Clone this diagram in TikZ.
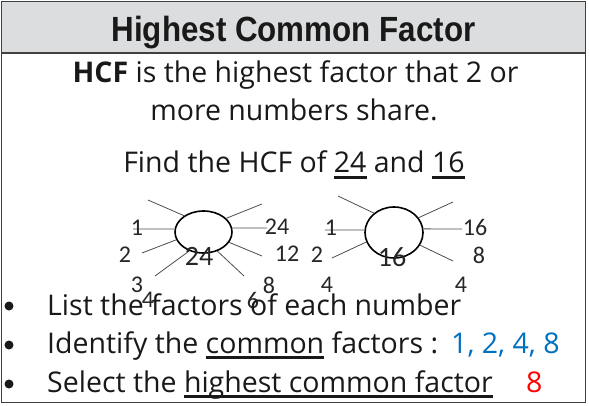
\documentclass[tikz,border=0pt]{standalone}
\usepackage{graphicx}
\usepackage{fontspec}
\setmainfont{Open Sans}
\newfontfamily\titlefont{Liberation Sans}
\newfontfamily\labelfont{Carlito}
\usetikzlibrary{shapes.geometric}

\definecolor{bandgrey}{HTML}{DCDDDF}
\definecolor{framegrey}{HTML}{404040}
\definecolor{factorblue}{HTML}{0070C0}
\definecolor{answerred}{HTML}{FF0000}

% word with a heavy rule under it
\newcommand{\uword}[1]{\setbox0\hbox{#1}\rlap{\rule[-6pt]{\wd0}{2.8pt}}\box0\relax}

\begin{document}
\begin{tikzpicture}[x=1pt, y=-1pt,
  bodytext/.style={anchor=base west, inner sep=0pt, font=\fontsize{28.5}{32}\selectfont, text=black!90},
  numlabel/.style={inner sep=0pt, font=\labelfont\fontsize{24}{24}\selectfont, text=black!85},
  biglabel/.style={inner sep=0pt, font=\labelfont\fontsize{28}{28}\selectfont, text=black!85},
  ring/.style={draw, ellipse, line width=1.6pt, inner sep=0pt},
  ray/.style={draw=black!70, line width=0.8pt},
  bulletdot/.style={circle, fill=black!90, inner sep=0pt, minimum size=9pt}]

  \useasboundingbox (0,0) rectangle (589,406);

  % frame and title band
  \fill[bandgrey] (1.5,1.5) rectangle (585.5,53);
  \draw[framegrey, line width=1.4pt] (1.5,1.5) rectangle (585.5,402.5);
  \draw[framegrey, line width=1.4pt] (1.5,53) -- (585.5,53);

  \node[anchor=base, inner sep=0pt, font=\titlefont\bfseries\fontsize{35}{35}\selectfont, text=black!90]
    (title) at (293.5,42) {\scalebox{0.895}[1]{Highest Common Factor}};

  % definition and task
  \node[bodytext, anchor=base] (def1) at (295.5,83) {\textbf{HCF} is the highest factor that 2 or};
  \node[bodytext, anchor=base] (def2) at (294,121) {more numbers share.};
  \node[bodytext, anchor=base] (task) at (294,173) {Find the HCF of \uword{24} and \uword{16}};

  % factor rings
  \node[ring, minimum width=57pt, minimum height=42pt] (c24) at (203.5,232) {};
  \node[ring, minimum width=58pt, minimum height=51pt] (c16) at (394,232.5) {};

  \foreach \a/\ex/\ey in {140/148/200, 174/133/229, 196/142/253, 233/155/276,
                          31/262/204, 8/267/228, 338/262/256, 306/244/276}
    \draw[ray] (c24.\a) -- (\ex,\ey);

  \foreach \a/\ex/\ey in {136/338/196, 175/325/230, 199/332/258,
                          31/453/202, 7/462/229, 334/453/261}
    \draw[ray] (c16.\a) -- (\ex,\ey);

  % factor pairs
  \foreach \lab/\x/\y [count=\i] in {1/137/228, 2/125/255, 3/137/285, 4/148/300,
                                     24/277/227, 12/287/254, 8/269/285, 6/253/300}
    \node[numlabel] (fa\i) at (\x,\y) {\lab};
  \node[biglabel] (n24) at (199,256) {24};

  \foreach \lab/\x/\y [count=\i] in {1/331/228, 2/317/255, 4/327/285,
                                     16/475/227, 8/479/255, 4/461/285}
    \node[numlabel] (fb\i) at (\x,\y) {\lab};
  \node[biglabel] (n16) at (392,257) {16};

  % steps
  \node[bulletdot] (b1) at (9,306) {};
  \node[bulletdot] (b2) at (9,345) {};
  \node[bulletdot] (b3) at (9,384) {};

  \node[bodytext] (step1) at (47,315) {List the factors of each number};
  \node[bodytext] (step2) at (47,353) {Identify the \uword{common} factors :};
  \node[bodytext, text=factorblue] (common) at (451,353) {1, 2, 4, 8};
  \node[bodytext] (step3) at (47,392) {Select the \uword{highest common factor}};
  \node[bodytext, text=answerred] (answer) at (526,392) {8};

\end{tikzpicture}
\end{document}
